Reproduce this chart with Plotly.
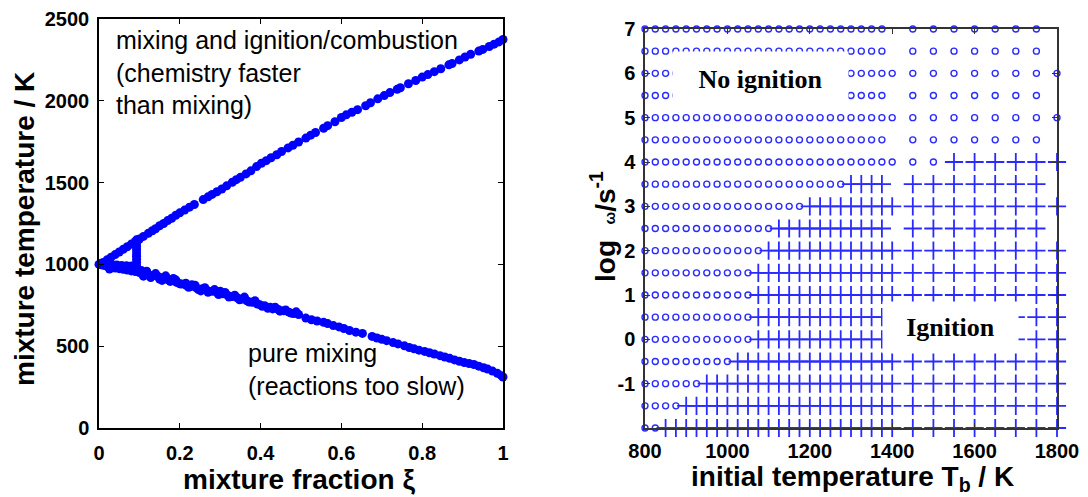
import plotly.graph_objects as go

# ---------------- Left panel data (mixture fraction vs temperature) ----------------
xi_upper = [0.010, 0.020, 0.030, 0.040, 0.050, 0.060, 0.070, 0.080, 0.090, 0.100,
            0.110, 0.122, 0.132, 0.140, 0.150, 0.160, 0.170, 0.180, 0.190, 0.200,
            0.212, 0.224, 0.236, 0.258, 0.270, 0.280, 0.292, 0.304, 0.316, 0.330,
            0.340, 0.350, 0.364, 0.376, 0.390, 0.402, 0.414, 0.426, 0.440, 0.452,
            0.468, 0.480, 0.494, 0.512, 0.524, 0.536, 0.556, 0.566, 0.584, 0.600,
            0.612, 0.626, 0.640, 0.660, 0.672, 0.690, 0.706, 0.720, 0.738, 0.746,
            0.766, 0.784, 0.800, 0.814, 0.830, 0.846, 0.866, 0.874, 0.892, 0.906,
            0.920, 0.940, 0.950, 0.966, 0.978, 0.990, 1.000]
T_upper = [1012, 1028, 1044, 1060, 1076, 1092, 1108, 1124, 1140, 1155,
           1171, 1190, 1206, 1218, 1236, 1250, 1268, 1282, 1300, 1315,
           1332, 1350, 1366, 1396, 1413, 1428, 1444, 1461, 1480, 1502,
           1518, 1532, 1553, 1572, 1598, 1618, 1634, 1652, 1670, 1690,
           1712, 1728, 1748, 1772, 1790, 1806, 1832, 1848, 1872, 1898,
           1914, 1930, 1946, 1970, 1988, 2012, 2032, 2050, 2070, 2080,
           2104, 2124, 2145, 2160, 2178, 2196, 2220, 2228, 2250, 2268,
           2284, 2304, 2314, 2332, 2346, 2360, 2375]

xi_lower = [0.000, 0.008, 0.016, 0.024, 0.032, 0.040, 0.050, 0.060, 0.070, 0.080,
            0.090, 0.100, 0.112, 0.122, 0.134, 0.146, 0.158, 0.170, 0.180, 0.192,
            0.204, 0.216, 0.228, 0.240, 0.254, 0.266, 0.280, 0.292, 0.306, 0.318,
            0.330, 0.342, 0.354, 0.366, 0.380, 0.392, 0.404, 0.418, 0.430, 0.444,
            0.458, 0.470, 0.482, 0.494, 0.512, 0.526, 0.540, 0.556, 0.566, 0.580,
            0.594, 0.606, 0.620, 0.636, 0.652, 0.676, 0.688, 0.700, 0.712, 0.728,
            0.740, 0.756, 0.768, 0.780, 0.792, 0.806, 0.818, 0.830, 0.844, 0.856,
            0.868, 0.880, 0.892, 0.904, 0.916, 0.928, 0.940, 0.952, 0.962, 0.974,
            0.986, 0.996, 1.000]
T_lower = [1000, 996, 992, 986, 982, 978, 974, 970, 966, 960,
           956, 950, 944, 938, 932, 926, 918, 908, 900, 890,
           880, 872, 866, 858, 850, 844, 836, 828, 820, 812,
           804, 796, 788, 778, 768, 758, 744, 732, 728, 724,
           716, 708, 700, 694, 672, 662, 654, 646, 638, 626,
           618, 608, 596, 586, 578, 560, 550, 542, 534, 522,
           514, 502, 492, 484, 476, 468, 460, 452, 442, 434,
           426, 416, 408, 400, 394, 388, 378, 368, 360, 348,
           334, 320, 312]

xi_scatter = [0.020, 0.032, 0.044, 0.056, 0.068, 0.080, 0.092,
              0.110, 0.128, 0.150, 0.176, 0.200, 0.222, 0.246, 0.270,
              0.296, 0.322, 0.348, 0.372, 0.398, 0.424, 0.448, 0.476,
              0.060, 0.085, 0.105, 0.140, 0.165, 0.190, 0.215, 0.238, 0.262,
              0.286, 0.312, 0.336, 0.360, 0.386, 0.410, 0.436, 0.462, 0.488,
              0.004, 0.012, 0.026, 0.118, 0.156, 0.184, 0.230, 0.252, 0.300]
T_scatter = [1002, 998, 996, 994, 992, 990, 988,
             928, 920, 910, 896, 882, 860, 846, 830,
             816, 800, 784, 770, 754, 738, 714, 702,
             985, 975, 962, 944, 930, 905, 885, 872, 858,
             846, 828, 812, 800, 778, 748, 738, 722, 710,
             1006, 1004, 972, 958, 902, 914, 876, 838, 836]

xi_jump = [0.093, 0.093, 0.093, 0.093, 0.093, 0.093, 0.093, 0.093, 0.093]
T_jump = [990, 1010, 1030, 1050, 1070, 1090, 1110, 1130, 1150]

# ---------------- Right panel data (ignition map) ----------------
T_fine = [800, 825, 850, 875, 900, 925, 950, 975, 1000, 1025, 1050, 1075, 1100,
          1125, 1150, 1175, 1200, 1225, 1250, 1275, 1300, 1325, 1350, 1375, 1400]
T_coarse = [1450, 1500, 1550, 1600, 1650, 1700, 1750, 1800]
log_omega = [-2.0, -1.5, -1.0, -0.5, 0.0, 0.5, 1.0, 1.5, 2.0, 2.5,
             3.0, 3.5, 4.0, 4.5, 5.0, 5.5, 6.0, 6.5, 7.0]
ignition_onset = [850, 900, 950, 1025, 1075, 1075, 1075, 1075, 1100, 1125,
                  1200, 1300, 1550, None, None, None, None, None, None]
row_fine_max = [1400, 1400, 1400, 1400, 1400, 1400, 1400, 1400, 1400, 1375,
                1400, 1375, 1400, 1375, 1400, 1375, 1400, 1375, 1375]
row_coarse_max = [1800, 1800, 1800, 1800, 1800, 1800, 1800, 1800, 1800, 1750,
                  1800, 1750, 1800, 1750, 1800, 1750, 1800, 1750, 1750]
y_ticks = [-1, 0, 1, 2, 3, 4, 5, 6, 7]
y_ticklabels = ["-1", "0", "1", "2", "3", "4", "5", "6", "7"]

no_ign_T, no_ign_w, ign_T, ign_w = [], [], [], []
for w, onset, fmax, cmax in zip(log_omega, ignition_onset, row_fine_max, row_coarse_max):
    temps = [t for t in T_fine if t <= fmax] + [t for t in T_coarse if t <= cmax]
    for t in temps:
        if onset is not None and t >= onset:
            ign_T.append(t); ign_w.append(w)
        else:
            no_ign_T.append(t); no_ign_w.append(w)

W, H = 1088, 497
def px(x):
    return x / W
def py(y):
    return 1 - y / H

BLUE = "#0000ff"
fig = go.Figure()

dot = dict(color=BLUE, size=9, line=dict(width=0))
for xs, ys in [(xi_upper, T_upper), (xi_lower, T_lower), (xi_scatter, T_scatter), (xi_jump, T_jump)]:
    fig.add_trace(go.Scatter(x=xs, y=ys, mode="markers", marker=dot, cliponaxis=False,
                             xaxis="x", yaxis="y", showlegend=False))

fig.add_trace(go.Scatter(x=no_ign_T, y=no_ign_w, mode="markers", cliponaxis=False,
                         marker=dict(symbol="circle-open", size=6, color="#2a2aff",
                                     line=dict(width=1.4, color="#2a2aff")),
                         xaxis="x2", yaxis="y2", showlegend=False))
fig.add_trace(go.Scatter(x=ign_T, y=ign_w, mode="markers", cliponaxis=False,
                         marker=dict(symbol="cross-thin", size=13, color="#2a2aff",
                                     line=dict(width=1.8, color="#2a2aff")),
                         xaxis="x2", yaxis="y2", showlegend=False))

tickfont = dict(family="Liberation Sans, Arial", size=20, color="black", weight="bold")
common = dict(showgrid=False, zeroline=False, showline=True, mirror="ticks",
              ticks="inside", ticklen=5, tickwidth=1, tickfont=tickfont, automargin=False)

fig.update_layout(
    width=W, height=H, template="none",
    margin=dict(l=0, r=0, t=0, b=0),
    paper_bgcolor="white", plot_bgcolor="white",
    xaxis=dict(domain=[px(99), px(503)], range=[0, 1], tickvals=[0, 0.2, 0.4, 0.6, 0.8, 1],
               ticktext=["0", "0.2", "0.4", "0.6", "0.8", "1"], linecolor="black", linewidth=1.5,
               tickcolor="black", ticklabelstandoff=6, anchor="y", **common),
    yaxis=dict(domain=[py(428), py(19)], range=[0, 2500], tickvals=[0, 500, 1000, 1500, 2000, 2500],
               linecolor="black", linewidth=1.5, tickcolor="black", ticklabelstandoff=4,
               anchor="x", **common),
    xaxis2=dict(domain=[px(645), px(1057)], range=[800, 1800],
                tickvals=[800, 1000, 1200, 1400, 1600, 1800], linecolor="#333333", linewidth=1.5,
                tickcolor="#333333", ticklabelstandoff=4, anchor="y2", **common),
    yaxis2=dict(domain=[py(428), py(29)], range=[-2, 7], tickvals=y_ticks, ticktext=y_ticklabels,
                linecolor="#333333", linewidth=1.5, tickcolor="#333333", ticklabelstandoff=4,
                anchor="x2", **common),
)

title_font = dict(family="Liberation Sans, Arial", size=28, color="black", weight="bold")
note_font = dict(family="Liberation Sans, Arial", size=25, color="black")
label_font = dict(family="Liberation Serif, Times New Roman", size=26, color="black", weight="bold")

annotations = [
    dict(text="mixture temperature / K", x=px(24), y=py(229), textangle=-90, font=title_font),
    dict(text="mixture fraction ξ", x=px(299), y=py(479), font=title_font),
    dict(text="initial temperature T<sub>b</sub> / K", x=px(852), y=py(478), font=title_font),
    dict(text="log  <span style='font-size:15px'>ω</span>/s<sup>-1</sup>", x=px(603), y=py(227),
         textangle=-90, font=title_font),
    dict(text="mixing and ignition/combustion<br>(chemistry faster<br>than mixing)",
         x=px(114), y=py(72), xanchor="left", align="left", font=note_font),
    dict(text="pure mixing<br>(reactions too slow)",
         x=px(246), y=py(369), xanchor="left", align="left", font=note_font),
    dict(text="No ignition", x=px(760.5), y=py(79.5), width=175, height=55, bgcolor="white",
         borderpad=0, font=label_font),
    dict(text="Ignition", x=px(950.5), y=py(327.5), width=135, height=51, bgcolor="white",
         borderpad=0, font=label_font),
]
for a in annotations:
    a.setdefault("xanchor", "center")
    a.setdefault("yanchor", "middle")
    fig.add_annotation(xref="paper", yref="paper", showarrow=False, **a)

fig.write_html("out.html", config={"displayModeBar": False},
               post_script="document.body.style.margin='0';document.body.style.overflow='hidden';")
